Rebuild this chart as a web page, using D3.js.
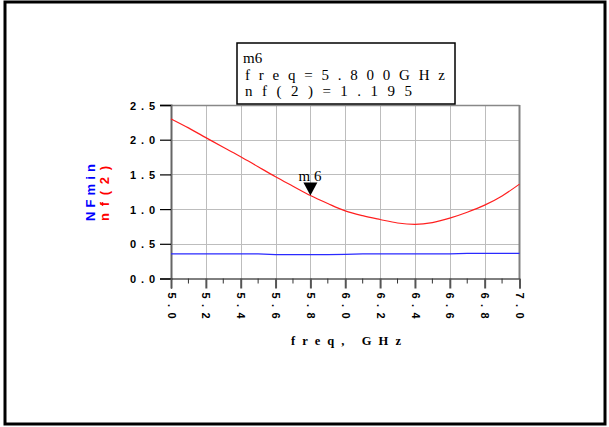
<!DOCTYPE html>
<html>
<head>
<meta charset="utf-8">
<script src="https://cdn.jsdelivr.net/npm/d3@7"></script>
<style>
  body { margin: 0; background: #fff; }
  svg { display: block; }
</style>
</head>
<body>
<div id="chart"></div>
<script>
// frequency points (GHz), every 0.1 GHz
const freq = [5.0, 5.1, 5.2, 5.3, 5.4, 5.5, 5.6, 5.7, 5.8, 5.9, 6.0,
              6.1, 6.2, 6.3, 6.4, 6.5, 6.6, 6.7, 6.8, 6.9, 7.0];
const nf2 = [2.30, 2.17, 2.03, 1.89, 1.755, 1.61, 1.466, 1.33, 1.195, 1.08, 0.975,
             0.905, 0.85, 0.80, 0.78, 0.805, 0.87, 0.955, 1.057, 1.19, 1.36];
const nfmin = [0.355, 0.355, 0.355, 0.355, 0.355, 0.355, 0.345, 0.345, 0.345, 0.345, 0.348,
               0.355, 0.355, 0.355, 0.355, 0.355, 0.355, 0.362, 0.362, 0.362, 0.362];

const xTicks = [5.0, 5.2, 5.4, 5.6, 5.8, 6.0, 6.2, 6.4, 6.6, 6.8, 7.0];
const xMinor = [5.1, 5.3, 5.5, 5.7, 5.9, 6.1, 6.3, 6.5, 6.7, 6.9];
const yTicks = [0.0, 0.5, 1.0, 1.5, 2.0, 2.5];

const marker = {name: 'm6', freq: 5.8, value: 1.195};
const markerLines = ['freq=5.800GHz', 'nf(2)=1.195'];

const W = 609, H = 427;
const plot = {left: 171, right: 519.5, top: 105, bottom: 278.5};

const svg = d3.select('#chart').append('svg')
    .attr('width', W).attr('height', H);

// outer frame
svg.append('rect')
    .attr('x', 5).attr('y', 2).attr('width', 600).attr('height', 422)
    .attr('fill', 'none').attr('stroke', '#000').attr('stroke-width', 3);

const x = d3.scaleLinear().domain([5.0, 7.0]).range([plot.left, plot.right]);
const y = d3.scaleLinear().domain([0, 2.5]).range([plot.bottom, plot.top]);

// grid
svg.append('g').selectAll('line').data(xTicks.slice(1, -1)).enter().append('line')
    .attr('x1', d => Math.round(x(d)) + 0.5).attr('x2', d => Math.round(x(d)) + 0.5)
    .attr('y1', plot.top).attr('y2', plot.bottom)
    .attr('stroke', '#bdbdbd').attr('stroke-width', 1);
svg.append('g').selectAll('line').data(yTicks.slice(1)).enter().append('line')
    .attr('x1', plot.left).attr('x2', plot.right)
    .attr('y1', d => Math.round(y(d)) + 0.5).attr('y2', d => Math.round(y(d)) + 0.5)
    .attr('stroke', d => d === 2.5 ? '#888' : '#bdbdbd').attr('stroke-width', d => d === 2.5 ? 1.5 : 1);

// right border of plot
svg.append('line')
    .attr('x1', plot.right).attr('x2', plot.right)
    .attr('y1', plot.top).attr('y2', plot.bottom)
    .attr('stroke', '#808080').attr('stroke-width', 2);

// left axis
const yAxis = svg.append('g')
    .attr('transform', `translate(${plot.left},0)`)
    .call(d3.axisLeft(y).tickValues(yTicks).tickSize(11).tickFormat(''));
yAxis.select('.domain').attr('stroke', '#666').attr('stroke-width', 2);
yAxis.selectAll('.tick line').attr('stroke', '#000').attr('stroke-width', 1.2);

yAxis.selectAll('.tick').append('text')
    .attr('x', -41).attr('y', 4)
    .attr('text-anchor', 'start')
    .attr('fill', '#000')
    .style('font-family', 'Liberation Sans, Arial, sans-serif')
    .style('font-weight', 'bold')
    .style('font-size', '11px')
    .attr('textLength', 25).attr('lengthAdjust', 'spacing')
    .text(d => d.toFixed(1));

// bottom axis
const xAxis = svg.append('g')
    .attr('transform', `translate(0,${plot.bottom})`)
    .call(d3.axisBottom(x).tickValues(xTicks).tickSize(10).tickFormat(''));
xAxis.select('.domain').attr('stroke', '#000').attr('stroke-width', 1);
xAxis.selectAll('.tick line').attr('stroke', '#555').attr('stroke-width', 2);

svg.append('g').selectAll('line').data(xMinor).enter().append('line')
    .attr('x1', d => x(d)).attr('x2', d => x(d))
    .attr('y1', plot.bottom).attr('y2', plot.bottom + 5)
    .attr('stroke', '#333').attr('stroke-width', 1);

xAxis.selectAll('.tick').append('text')
    .attr('transform', 'translate(0,14) rotate(90)')
    .attr('x', 0).attr('y', 0)
    .attr('dy', '0.35em')
    .attr('text-anchor', 'start')
    .attr('fill', '#000')
    .style('font-family', 'Liberation Sans, Arial, sans-serif')
    .style('font-weight', 'bold')
    .style('font-size', '11px')
    .attr('textLength', 26).attr('lengthAdjust', 'spacing')
    .text(d => d.toFixed(1));

// axis titles
svg.append('text')
    .attr('x', 291).attr('y', 345)
    .style('font-family', 'Liberation Serif, Times New Roman, serif')
    .style('font-weight', 'bold')
    .style('font-size', '12.5px')
    .attr('textLength', 110).attr('lengthAdjust', 'spacing')
    .text('freq, GHz');

svg.append('text')
    .attr('transform', 'translate(95,221) rotate(-90)')
    .attr('fill', '#0000ff')
    .style('font-family', 'Liberation Sans, Arial, sans-serif')
    .style('font-weight', 'bold')
    .style('font-size', '13px')
    .attr('textLength', 57).attr('lengthAdjust', 'spacing')
    .text('NFmin');
svg.append('text')
    .attr('transform', 'translate(109,221) rotate(-90)')
    .attr('fill', '#ff0000')
    .style('font-family', 'Liberation Sans, Arial, sans-serif')
    .style('font-weight', 'bold')
    .style('font-size', '13px')
    .attr('textLength', 55).attr('lengthAdjust', 'spacing')
    .text('nf(2)');

// traces
const line = d3.line().x((d, i) => x(freq[i])).y(d => y(d));
svg.append('path').datum(nfmin)
    .attr('d', line).attr('fill', 'none')
    .attr('stroke', '#2a2aff').attr('stroke-width', 1.3);
svg.append('path').datum(nf2)
    .attr('d', d3.line().curve(d3.curveMonotoneX).x((d, i) => x(freq[i])).y(d => y(d)))
    .attr('fill', 'none')
    .attr('stroke', '#ff2020').attr('stroke-width', 1.2);

// marker triangle
const mx = x(marker.freq), my = y(marker.value);
svg.append('path')
    .attr('d', `M${mx - 7},${my - 13}L${mx + 7},${my - 13}L${mx},${my}Z`)
    .attr('fill', '#000');
svg.append('text')
    .attr('x', mx - 12).attr('y', my - 15)
    .style('font-family', 'Liberation Serif, Times New Roman, serif')
    .style('font-size', '15px')
    .attr('textLength', 23).attr('lengthAdjust', 'spacing')
    .text(marker.name);

// marker readout box
svg.append('rect')
    .attr('x', 237).attr('y', 43).attr('width', 218).attr('height', 61)
    .attr('fill', '#fff').attr('stroke', '#000').attr('stroke-width', 1.5);
svg.append('text')
    .attr('x', 243).attr('y', 63)
    .style('font-family', 'Liberation Serif, Times New Roman, serif')
    .style('font-size', '15px')
    .text(marker.name);
markerLines.forEach((t, i) => {
    svg.append('text')
        .attr('x', 245).attr('y', 80 + i * 16)
        .style('font-family', 'Liberation Serif, Times New Roman, serif')
        .style('font-size', '15px')
        .attr('textLength', i === 0 ? 200 : 167).attr('lengthAdjust', 'spacing')
        .text(t);
});
</script>
</body>
</html>
